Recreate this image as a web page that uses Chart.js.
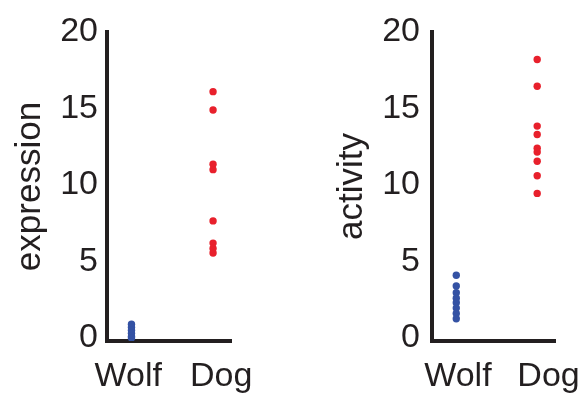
<!DOCTYPE html>
<html><head><meta charset="utf-8">
<script src="https://cdn.jsdelivr.net/npm/chart.js@4"></script>
<style>
html,body{margin:0;padding:0;background:#fff;}
#wrap{position:relative;width:582px;height:394px;overflow:hidden;background:#fff;}
.c{position:absolute;top:0;width:291px;height:394px;}
</style></head><body>
<div id="wrap">
<div class="c" style="left:0"><canvas id="c1" width="291" height="394"></canvas></div>
<div class="c" style="left:291px"><canvas id="c2" width="291" height="394"></canvas></div>
</div>
<script>
const categories = ['Wolf', 'Dog'];
const yTicks = [0, 5, 10, 15, 20];
const expressionWolf = [0.9, 0.7, 0.5, 0.3, 0.1, 0.0];
const expressionDog = [16.1, 14.9, 11.35, 11.0, 7.65, 6.2, 5.85, 5.55];
const activityWolf = [4.1, 3.4, 2.95, 2.6, 2.3, 1.95, 1.6, 1.25];
const activityDog = [18.2, 16.45, 13.85, 13.3, 12.4, 12.15, 11.55, 10.6, 9.45];

const INK = '#231f20';
const RED = '#e8202c';
const BLUE = '#3452a4';
const FONT = '"Liberation Sans", Arial, Helvetica, sans-serif';

function makeChart(id, title, wolf, dog, o) {
  const pts = (arr, i) => arr.map(v => ({x: i, y: v}));
  return new Chart(document.getElementById(id), {
    type: 'scatter',
    data: {
      datasets: [
        {label: categories[0], data: pts(wolf, 0), backgroundColor: BLUE, pointRadius: 3.7, borderWidth: 0},
        {label: categories[1], data: pts(dog, 1), backgroundColor: RED, pointRadius: 3.7, borderWidth: 0}
      ]
    },
    options: {
      responsive: false,
      animation: false,
      events: [],
      layout: {padding: {left: 0, right: o.right, top: 32, bottom: 0}},
      plugins: {legend: {display: false}, tooltip: {enabled: false}},
      scales: {
        x: {
          type: 'linear', min: -0.3, max: 1.22,
          afterBuildTicks: s => { s.ticks = categories.map((c, i) => ({value: i + o.labelShift[i]})); },
          afterFit: s => { s.height = 53; s.paddingLeft = 0; s.paddingRight = 0; },
          grid: {display: false, drawTicks: false},
          border: {display: true, color: INK, width: 4},
          ticks: {
            autoSkip: false, maxRotation: 0, padding: 15,
            color: INK, font: {family: FONT, size: 34},
            callback: (v, i) => categories[i]
          }
        },
        y: {
          type: 'linear', min: -0.2, max: 20,
          afterBuildTicks: s => { s.ticks = yTicks.map(v => ({value: v})); },
          afterFit: s => { s.width = o.yWidth; s.paddingTop = 0; s.paddingBottom = 0; },
          grid: {display: false, drawTicks: false},
          border: {display: true, color: INK, width: 4},
          ticks: {padding: o.tickPad, color: INK, font: {family: FONT, size: 34}},
          title: {display: true, text: title, color: INK, font: {family: FONT, size: 35}, padding: {top: o.titlePad, bottom: 0}}
        }
      }
    }
  });
}

makeChart('c1', 'expression', expressionWolf, expressionDog, {right: 60, yWidth: 107, tickPad: 9, titlePad: 9, labelShift: [-0.04, 0.1]});
makeChart('c2', 'activity', activityWolf, activityDog, {right: 27, yWidth: 141, tickPad: 12, titlePad: 40, labelShift: [0.02, 0.14]});
</script>
</body></html>
